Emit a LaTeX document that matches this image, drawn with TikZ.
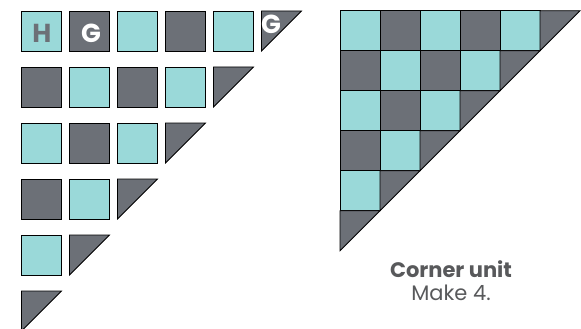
\documentclass[tikz,border=0pt]{standalone}
\usepackage{fontspec}
\setmainfont{Poppins}
\usepackage{xcolor}
\usepackage{tikz}
\usetikzlibrary{positioning}
\definecolor{tqA}{HTML}{9AD9D9}
\definecolor{gyA}{HTML}{6C7077}
\definecolor{txA}{HTML}{58595B}

\begin{document}
\begin{tikzpicture}[x=1pt,y=-1pt, font=\fontsize{21}{24}\selectfont,
  sq/.style={draw=black, line width=0.8pt, minimum size=40pt, inner sep=0pt, outer sep=0pt},
  light/.style={sq, fill=tqA},
  dark/.style={sq, fill=gyA},
  half/.style={draw=black, line width=0.8pt, fill=gyA, line join=miter},
  letter/.style={font=\fontsize{26}{28}\selectfont\bfseries, inner sep=0pt, anchor=base},
  caption/.style={text=txA, inner sep=0pt, anchor=base},
  ]
\useasboundingbox (0,0) rectangle (581,329);
% ---- the loose pieces: row r has 5-r squares and one half square
\foreach \r in {0,...,5}{
  \pgfmathtruncatemacro\last{4-\r}
  \ifnum\last>-1
    \foreach \c in {0,...,\last}{
      \pgfmathtruncatemacro\odd{mod(\r+\c,2)}
      \ifnum\odd=0
        \node[light] (p-\r-\c) at (41.5+48*\c, 31+56*\r) {};
      \else
        \node[dark] (p-\r-\c) at (41.5+48*\c, 31+56*\r) {};
      \fi
    }
  \fi
  \pgfmathsetmacro\tx{21.5+48*(5-\r)}
  \pgfmathsetmacro\ty{11+56*\r}
  \coordinate (t-\r) at (\tx,\ty);
  \draw[half] (t-\r) -- ++(40,0) -- ++(-40,40) -- cycle;
}
\node[letter, text=gyA] (hL) at (42,42.5) {H};
\node[letter, text=white] (gL) at (91,42.5) {G};
\node[letter, text=white] (gT) at (271,33.5) {G};
% ---- the corner unit, sewn together
\foreach \j in {0,...,5}{
  \pgfmathtruncatemacro\last{4-\j}
  \ifnum\last>-1
    \foreach \i in {0,...,\last}{
      \pgfmathtruncatemacro\odd{mod(\i+\j,2)}
      \ifnum\odd=0
        \node[light] (u-\j-\i) at (360+40*\i, 30.7+40*\j) {};
      \else
        \node[dark] (u-\j-\i) at (360+40*\i, 30.7+40*\j) {};
      \fi
    }
  \fi
  \pgfmathsetmacro\ux{340+40*(5-\j)}
  \pgfmathsetmacro\uy{10.7+40*\j}
  \coordinate (v-\j) at (\ux,\uy);
  \draw[half] (v-\j) -- ++(40,0) -- ++(-40,40) -- cycle;
}
% ---- caption
\node[caption, font=\fontsize{21}{24}\selectfont\bfseries] (title) at (451,277) {Corner unit};
\node[caption] (note) at (451,300) {Make 4.};
\end{tikzpicture}
\end{document}
